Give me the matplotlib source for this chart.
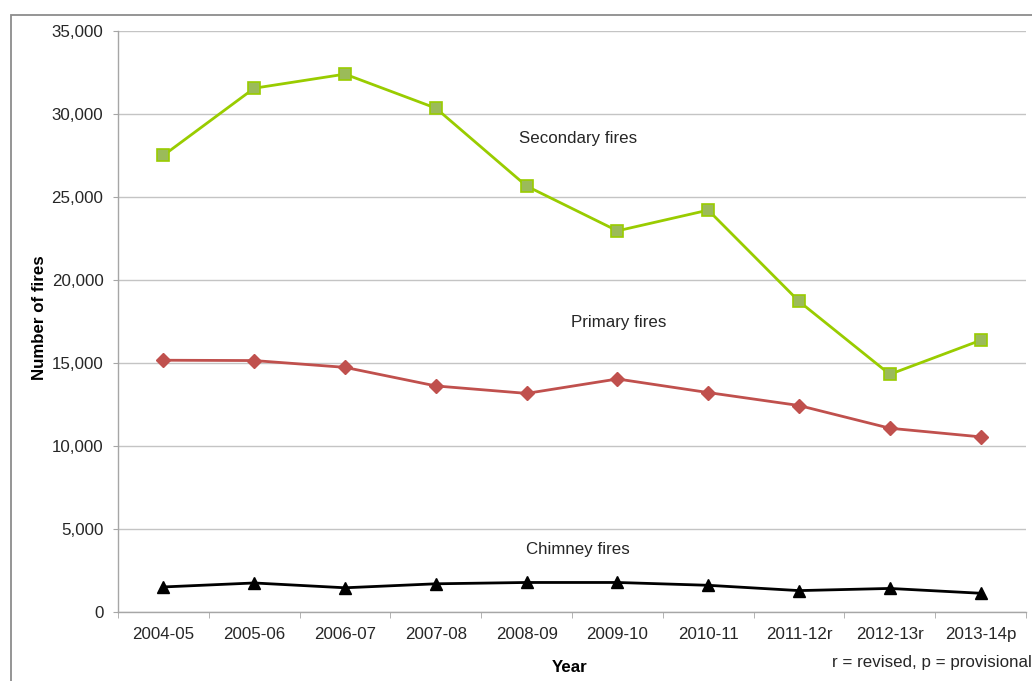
import matplotlib
matplotlib.use("Agg")
import matplotlib.pyplot as plt
from matplotlib.patches import Rectangle
from matplotlib.ticker import FuncFormatter, FixedLocator

plt.rcParams['font.family'] = ['Liberation Sans', 'DejaVu Sans']

years = ["2004-05", "2005-06", "2006-07", "2007-08", "2008-09",
         "2009-10", "2010-11", "2011-12r", "2012-13r", "2013-14p"]
secondary = [27500, 31550, 32400, 30350, 25650, 22950, 24200, 18700, 14300, 16350]
primary = [15150, 15130, 14720, 13600, 13150, 14020, 13200, 12420, 11050, 10530]
chimney = [1480, 1720, 1430, 1670, 1750, 1750, 1580, 1260, 1390, 1100]

W, H = 1032, 681
FS = 12.2
fig = plt.figure(figsize=(W / 100, H / 100), dpi=100)
ax = fig.add_axes([118 / W, 1 - 611.5 / H, (1026 - 118) / W, (611.5 - 31) / H])

x = list(range(len(years)))
ax.plot(x, secondary, color='#99CC00', lw=2.0, marker='s', ms=8,
        markerfacecolor='#9BBB59', markeredgecolor='#99CC00', mew=1.2, zorder=3)
ax.plot(x, primary, color='#C0504D', lw=2.0, marker='D', ms=7,
        markerfacecolor='#C0504D', markeredgecolor='#C0504D', zorder=3)
ax.plot(x, chimney, color='black', lw=2.0, marker='^', ms=8,
        markerfacecolor='black', markeredgecolor='black', zorder=3)

ax.set_xlim(-0.5, len(years) - 0.5)
ax.set_ylim(0, 35000)
ax.set_yticks(range(0, 35001, 5000))
ax.yaxis.set_major_formatter(FuncFormatter(lambda v, p: f"{int(v):,}"))
ax.set_xticks(x)
ax.set_xticklabels(years)
ax.xaxis.set_minor_locator(FixedLocator([i - 0.5 for i in range(len(years) + 1)]))

ax.grid(axis='y', color='#C4C4C4', lw=1.0)
ax.set_axisbelow(True)
for s in ['top', 'right']:
    ax.spines[s].set_visible(False)
for s in ['left', 'bottom']:
    ax.spines[s].set_color('#A6A6A6')
    ax.spines[s].set_linewidth(1.0)

ax.tick_params(axis='y', length=3.5, color='#A6A6A6', pad=7, labelsize=FS, labelcolor='#262626')
ax.tick_params(axis='x', which='major', length=0, pad=11, labelsize=FS, labelcolor='#262626')
ax.tick_params(axis='x', which='minor', length=4, color='#A6A6A6')

ax.text(4.57, 28500, "Secondary fires", ha='center', va='center', fontsize=FS, color='#262626')
ax.text(5.01, 17450, "Primary fires", ha='center', va='center', fontsize=FS, color='#262626')
ax.text(4.56, 3750, "Chimney fires", ha='center', va='center', fontsize=FS, color='#262626')

fig.text(570 / W, 1 - 668 / H, "Year", ha='center', va='center', fontsize=FS, fontweight='bold')
fig.text(40 / W, 1 - 318 / H, "Number of fires", ha='center', va='center', fontsize=FS,
         fontweight='bold', rotation=90)
fig.text(1032 / W, 1 - 663 / H, "r = revised, p = provisional", ha='right', va='center',
         fontsize=FS, color='#262626')

fig.patches.append(Rectangle((10.5 / W, -0.1), 1.2, 1 - 14.5 / H + 0.1, transform=fig.transFigure,
                             fill=False, edgecolor='#8C8C8C', lw=1.3))

fig.savefig("out.png", dpi=100)
